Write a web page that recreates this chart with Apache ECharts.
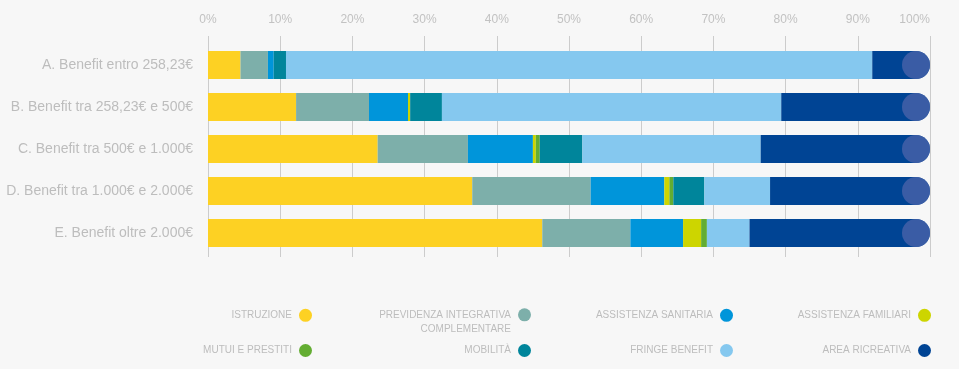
<!DOCTYPE html>
<html>
<head>
<meta charset="utf-8">
<script src="https://cdn.jsdelivr.net/npm/echarts@6/dist/echarts.min.js"></script>
<style>
html,body{margin:0;padding:0;background:#f7f7f7;}
#chart{width:959px;height:369px;}
</style>
</head>
<body>
<div id="chart"></div>
<script>
const categories = [
  'A. Benefit entro 258,23€',
  'B. Benefit tra 258,23€ e 500€',
  'C. Benefit tra 500€ e 1.000€',
  'D. Benefit tra 1.000€ e 2.000€',
  'E. Benefit oltre 2.000€'
];
const seriesNames = [
  'ISTRUZIONE',
  'PREVIDENZA INTEGRATIVA COMPLEMENTARE',
  'ASSISTENZA SANITARIA',
  'ASSISTENZA FAMILIARI',
  'MUTUI E PRESTITI',
  'MOBILITÀ',
  'FRINGE BENEFIT',
  'AREA RICREATIVA'
];
const istruzione  = [4.5, 12.2, 23.5, 36.6, 46.3];
const previdenza  = [3.8, 10.1, 12.5, 16.4, 12.2];
const sanitaria   = [0.8, 5.4, 9.0, 10.2, 7.3];
const familiari   = [0, 0.3, 0.4, 0.7, 2.5];
const mutui       = [0, 0, 0.55, 0.55, 0.8];
const mobilita    = [1.7, 4.4, 5.9, 4.3, 0];
const fringe      = [81.2, 47.0, 24.7, 9.1, 5.9];
const ricreativa  = [8.0, 20.6, 23.45, 22.15, 25.0];
const endMarks    = [100, 100, 100, 100, 100];
const tickLabels  = ['0%','10%','20%','30%','40%','50%','60%','70%','80%','90%','100%'];

const values = [istruzione, previdenza, sanitaria, familiari, mutui, mobilita, fringe, ricreativa];
const colors = ['#fdd123','#7dafaa','#0095da','#cdd500','#63ad32','#00859b','#85c8ef','#004494'];

const FONT = 'Liberation Sans';
const chart = echarts.init(document.getElementById('chart'));

const barSeries = seriesNames.map((n, i) => ({
  name: n,
  type: 'bar',
  stack: 'total',
  barWidth: 28,
  xAxisIndex: 0,
  data: values[i],
  itemStyle: {
    color: colors[i],
    borderRadius: i === 7 ? [0, 14, 14, 0] : 0
  },
  emphasis: { disabled: true },
  silent: true
}));

barSeries.push({
  name: 'end',
  type: 'scatter',
  xAxisIndex: 0,
  data: endMarks,
  symbol: 'circle',
  symbolSize: 28,
  symbolOffset: [-14, 0],
  itemStyle: { color: '#4863a9' },
  z: 5,
  silent: true
});

// legend positions: [right, top] per item
const legendPos = [
  [647, 308.3], [428, 293.8], [226, 308.3], [28, 308.3],
  [647, 343.5], [428, 343.5], [226, 343.5], [28, 343.5]
];
const legends = seriesNames.map((n, i) => ({
  data: [{ name: n, icon: 'circle' }],
  right: legendPos[i][0],
  top: legendPos[i][1],
  align: 'right',
  padding: 0,
  itemWidth: 13,
  itemHeight: 13,
  selectedMode: false,
  formatter: i === 1 ? '\nPREVIDENZA INTEGRATIVA\nCOMPLEMENTARE' : '{name}',
  textStyle: {
    color: '#bdbdbd',
    fontSize: 10,
    fontFamily: FONT,
    lineHeight: 14,
    padding: [0, 2, 0, 0],
    align: 'right'
  }
}));

chart.setOption({
  backgroundColor: '#f7f7f7',
  animation: false,
  color: colors,
  legend: legends,
  grid: { left: 208, width: 722, top: 44, height: 210, containLabel: false },
  xAxis: [{
    type: 'value',
    position: 'top',
    min: 0, max: 100, interval: 10,
    axisLine: { show: false },
    axisTick: { show: true, length: 8, lineStyle: { color: '#cccccc' } },
    splitLine: { show: true, lineStyle: { color: '#cccccc', width: 1 } },
    axisLabel: {
      margin: 18.5,
      color: '#c2c2c2',
      fontSize: 12,
      fontFamily: FONT,
      alignMaxLabel: 'right',
      formatter: (v) => tickLabels[Math.round(v / 10)]
    }
  }, {
    type: 'value',
    position: 'bottom',
    min: 0, max: 100, interval: 10,
    axisLine: { show: false },
    axisTick: { show: true, length: 3, lineStyle: { color: '#cccccc' } },
    splitLine: { show: false },
    axisLabel: { show: false }
  }],
  yAxis: {
    type: 'category',
    inverse: true,
    data: categories,
    axisLine: { show: false },
    axisTick: { show: false },
    axisLabel: {
      margin: 15,
      color: '#bdbdbd',
      fontSize: 14,
      fontFamily: FONT
    }
  },
  series: barSeries
});
</script>
</body>
</html>
